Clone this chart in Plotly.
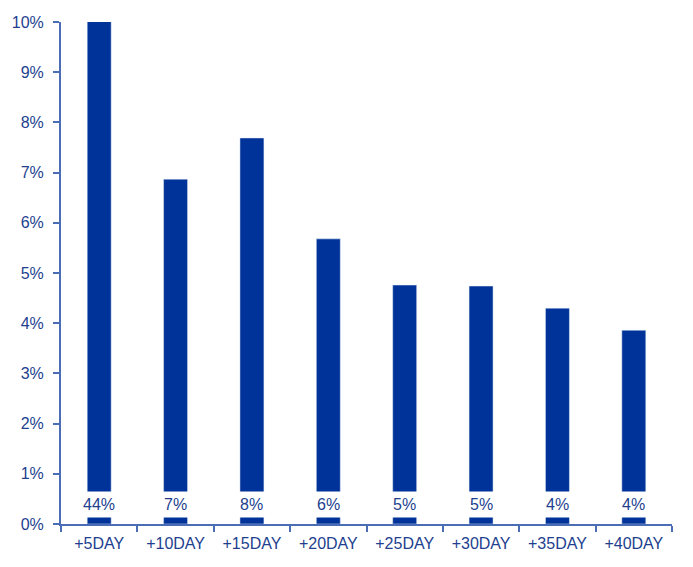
import plotly.graph_objects as go

categories = ["+5DAY", "+10DAY", "+15DAY", "+20DAY", "+25DAY", "+30DAY", "+35DAY", "+40DAY"]
values = [0.44, 0.0687, 0.0769, 0.0568, 0.0476, 0.0474, 0.0430, 0.0386]
labels = ["44%", "7%", "8%", "6%", "5%", "5%", "4%", "4%"]

bar_color = "#003399"
text_color = "#223F8F"
axis_color = "#4A6DB5"

fig = go.Figure()
fig.add_trace(go.Bar(x=categories, y=values, marker_color=bar_color, width=0.314))

for c, lab in zip(categories, labels):
    fig.add_annotation(x=c, y=0.0038, text=lab, showarrow=False,
                       font=dict(size=16, color=text_color, family="Liberation Sans, Arial"),
                       bgcolor="white", borderpad=4)

fig.update_layout(
    width=685, height=559,
    margin=dict(l=53, r=21, t=14, b=43, autoexpand=False),
    plot_bgcolor="white", paper_bgcolor="white",
    showlegend=False,
    font=dict(family="Liberation Sans, Arial", size=16, color=text_color),
)
fig.update_yaxes(range=[0, 0.10], tickformat=".0%", dtick=0.01, showgrid=False, zeroline=False,
                 showline=True, linecolor=axis_color, linewidth=2, ticks="outside", ticklen=6,
                 tickcolor=axis_color, tickwidth=2, tickfont=dict(size=16, color=text_color),
                 ticklabelstandoff=6, automargin=False)
fig.update_xaxes(showgrid=False, showline=True, linecolor=axis_color, linewidth=2,
                 ticks="outside", tickson="boundaries", ticklen=6, tickcolor=axis_color, tickwidth=2,
                 tickfont=dict(size=16, color=text_color), ticklabelstandoff=4, automargin=False)

fig.write_html("out.html")
